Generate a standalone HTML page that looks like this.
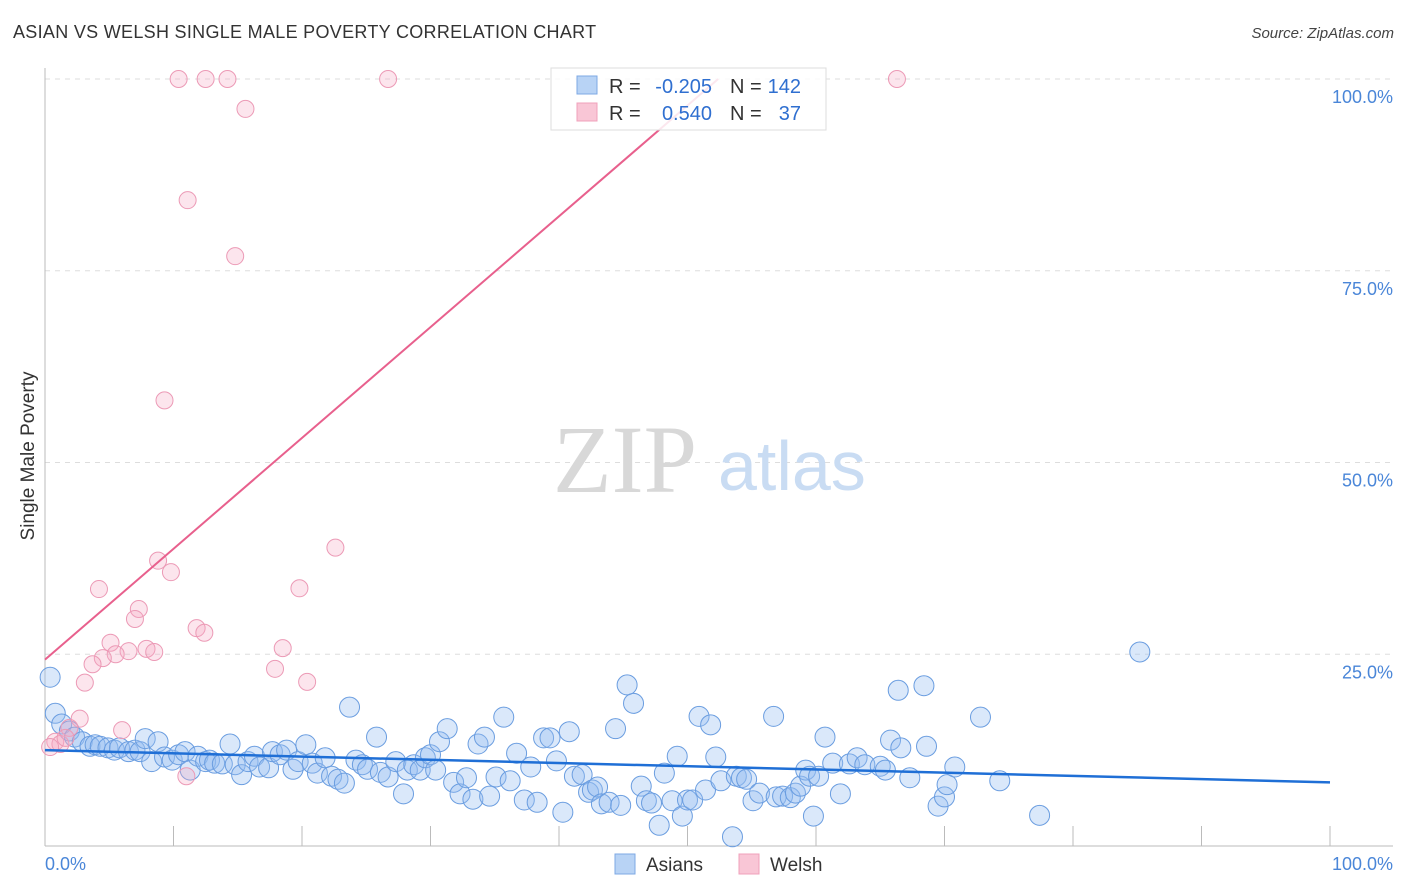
<!DOCTYPE html>
<html><head><meta charset="utf-8"><style>
body{margin:0;background:#fff;font-family:"Liberation Sans",sans-serif;}
#wrap{position:relative;width:1406px;height:892px;overflow:hidden;}
.t{position:absolute;white-space:nowrap;}
</style></head><body>
<div id="wrap">
<div class="t" style="left:13px;top:22px;font-size:18px;color:#333;letter-spacing:0.3px">ASIAN VS WELSH SINGLE MALE POVERTY CORRELATION CHART</div>
<div class="t" style="right:12px;top:25px;font-size:15px;color:#444;font-style:italic">Source: ZipAtlas.com</div>
<svg id="plot" width="1406" height="892" style="position:absolute;left:0;top:0"></svg>
</div>
<script>
const asianX=[0.4,0.8,1.3,1.9,2.3,2.9,3.5,3.9,4.3,4.9,5.4,5.8,6.5,7.0,7.4,7.8,8.3,8.8,9.3,9.9,10.4,10.9,11.3,11.9,12.5,12.8,13.2,13.8,14.4,14.8,15.3,15.8,16.3,16.7,17.4,17.7,18.3,18.8,19.3,19.7,20.3,20.8,21.2,21.8,22.3,22.8,23.3,23.7,24.2,24.7,25.1,25.8,26.1,26.7,27.3,27.9,28.2,28.7,29.2,29.6,30.0,30.4,30.7,31.3,31.8,32.3,32.8,33.3,33.7,34.2,34.6,35.1,35.7,36.2,36.7,37.3,37.8,38.3,38.8,39.3,39.8,40.3,40.8,41.2,41.8,42.3,42.6,43.0,43.3,43.9,44.4,44.8,45.3,45.8,46.4,46.8,47.2,47.8,48.2,48.8,49.2,49.6,50.0,50.4,50.9,51.4,51.8,52.2,52.6,53.5,53.8,54.2,54.6,55.1,55.6,56.7,56.9,57.4,58.0,58.4,58.8,59.2,59.5,59.8,60.2,60.7,61.3,61.9,62.6,63.2,63.8,65.0,65.4,65.8,66.4,66.6,67.3,68.4,68.6,69.5,70.0,70.2,70.8,72.8,74.3,77.4,85.2];
const asianY=[22.0,17.3,15.9,15.0,14.2,13.6,13.0,13.2,13.0,12.8,12.5,12.8,12.3,12.5,12.3,14.0,11.0,13.6,11.6,11.2,11.9,12.3,9.9,11.7,11.0,11.2,10.8,10.7,13.3,10.6,9.3,11.0,11.7,10.3,10.2,12.3,11.9,12.5,10.0,11.0,13.2,10.8,9.5,11.5,9.1,8.7,8.2,18.1,11.2,10.6,10.0,14.2,9.6,9.0,11.0,6.8,9.9,10.6,9.9,11.5,11.9,9.9,13.6,15.3,8.3,6.8,8.9,6.1,13.3,14.2,6.5,9.0,16.8,8.5,12.1,6.0,10.3,5.7,14.1,14.1,11.1,4.4,14.9,9.1,9.3,7.0,7.3,7.7,5.5,5.7,15.3,5.3,21.0,18.6,7.8,5.9,5.6,2.7,9.5,5.9,11.7,3.9,6.0,6.0,16.9,7.3,15.8,11.6,8.5,1.2,9.1,8.9,8.7,5.9,6.9,16.9,6.4,6.5,6.3,6.9,7.8,9.9,9.1,3.9,9.1,14.2,10.8,6.8,10.7,11.5,10.6,10.4,9.9,13.8,20.3,12.8,8.9,20.9,13.0,5.2,6.4,8.0,10.3,16.8,8.5,4.0,25.3];
const welshX=[10.4,12.5,14.2,26.7,66.3,15.6,11.1,14.8,9.3,22.6,8.8,9.8,4.2,19.8,7.3,7.0,11.8,12.4,5.1,18.5,7.9,6.5,8.5,5.5,4.5,3.7,17.9,20.4,3.1,2.7,6.0,11.0,0.8,1.2,1.9,1.6,0.4];
const welshY=[100,100,100,100,100,96.1,84.2,76.9,58.1,38.9,37.2,35.7,33.5,33.6,30.9,29.6,28.4,27.8,26.5,25.8,25.7,25.4,25.3,25.0,24.5,23.7,23.1,21.4,21.3,16.6,15.1,9.1,13.6,13.3,15.4,14.1,12.9];
const asianTrend=[12.5,8.3];
const welshTrend=[24.3,1.445];
const yTicks=[25,50,75,100];
const yTickLabels=["25.0%","50.0%","75.0%","100.0%"];
const xTicks=[0,10,20,30,40,50,60,70,80,90,100];

const X0=45,X1=1330,Y0=846,Y1=79;
const sx=v=>X0+(X1-X0)*v/100;
const sy=v=>Y0-(Y0-Y1)*v/100;
const NS="http://www.w3.org/2000/svg";
const svg=document.getElementById('plot');
function mk(tag,attrs,parent){const e=document.createElementNS(NS,tag);for(const k in attrs)e.setAttribute(k,attrs[k]);(parent||svg).appendChild(e);return e;}

yTicks.forEach((v,i)=>{
 const g=mk('line',{x1:X0,x2:1393,y1:sy(v),y2:sy(v),stroke:'#ddd','stroke-dasharray':'5,5'});
 
 
 const t=mk('text',{x:1393,y:sy(v)+24,'text-anchor':'end','font-size':18,fill:'#4a86d8','font-family':'Liberation Sans, sans-serif'});
 t.textContent=yTickLabels[i];
 
 
});
const ax=mk('line',{x1:X0,x2:X0,y1:68,y2:Y0,stroke:'#bbb'});


const bx=mk('line',{x1:X0,x2:1393,y1:Y0,y2:Y0,stroke:'#bbb'});


xTicks.forEach(v=>{
 const l=mk('line',{x1:sx(v),x2:sx(v),y1:826,y2:Y0,stroke:'#bbb'});
 
 
});

const wm=mk('text',{x:553,y:492,'font-size':96,fill:'#d8d8d8','font-family':'Liberation Serif, serif'});
wm.textContent='ZIP';


const wm2=mk('text',{x:718,y:490,'font-size':70,fill:'#c9dcf3','font-family':'Liberation Sans, sans-serif'});
wm2.textContent='atlas';



asianX.forEach((x,i)=>{
 const c=mk('circle',{cx:sx(x),cy:sy(asianY[i]),r:10,fill:'rgba(150,190,240,0.35)',stroke:'#6a9de0','stroke-width':1});
 
 
});
welshX.forEach((x,i)=>{
 const c=mk('circle',{cx:sx(x),cy:sy(welshY[i]),r:8.5,fill:'rgba(245,170,195,0.3)',stroke:'#ec9ab6','stroke-width':1});
 
 
});
const at=mk('line',{x1:sx(0),y1:sy(asianTrend[0]),x2:sx(100),y2:sy(asianTrend[1]),stroke:'#1f6fd6','stroke-width':2.5});


const xe=(100-welshTrend[0])/welshTrend[1];
const wt=mk('line',{x1:sx(0),y1:sy(welshTrend[0]),x2:sx(xe),y2:sy(100),stroke:'#e8608d','stroke-width':2});



const lg=mk('g',{});


mk('rect',{x:551,y:68,width:275,height:62,fill:'rgba(255,255,255,0.85)',stroke:'#ddd'},lg);
mk('rect',{x:577,y:76,width:20,height:18,fill:'#b8d3f5',stroke:'#7ea8e4'},lg);
mk('rect',{x:577,y:103,width:20,height:18,fill:'#f9c6d6',stroke:'#f0a0bb'},lg);
function lt(x,y,s,c,a){const t=mk('text',{x:x,y:y,'font-size':20,fill:c,'font-family':'Liberation Sans, sans-serif','text-anchor':a||'start'},lg);t.textContent=s;return t;}
lt(609,93,'R =','#333');lt(712,93,'-0.205','#2f6fd0','end');lt(730,93,'N =','#333');lt(801,93,'142','#2f6fd0','end');
lt(609,120,'R =','#333');lt(712,120,'0.540','#2f6fd0','end');lt(730,120,'N =','#333');lt(801,120,'37','#2f6fd0','end');

function tx(x,y,s,sz,c,a,name){const t=mk('text',{x:x,y:y,'font-size':sz,fill:c,'font-family':'Liberation Sans, sans-serif','text-anchor':a||'start'});t.textContent=s;return t;}
tx(45,870,'0.0%',18,'#4a86d8','start','x-min-label');
tx(1393,870,'100.0%',18,'#4a86d8','end','x-max-label');
const yt=tx(0,0,'Single Male Poverty',19,'#333','middle','y-axis-title');
yt.setAttribute('transform','translate(34,456) rotate(-90)');
const b1=mk('rect',{x:615,y:854,width:20,height:20,fill:'#b8d3f5',stroke:'#7ea8e4'});


tx(646,871,'Asians',19,'#333','start','legend-asians');
const b2=mk('rect',{x:739,y:854,width:20,height:20,fill:'#f9c6d6',stroke:'#f0a0bb'});


tx(770,871,'Welsh',19,'#333','start','legend-welsh');
</script>
</body></html>
